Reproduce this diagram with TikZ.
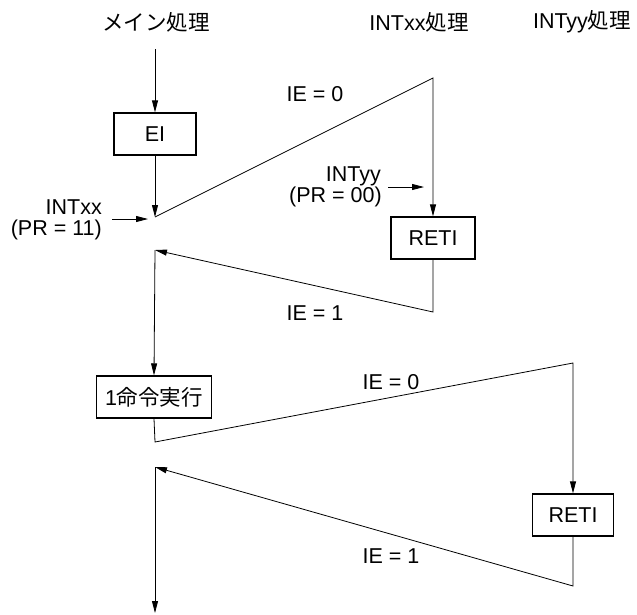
\documentclass[tikz,border=0pt]{standalone}
\usepackage{fontspec}
\setmainfont{Liberation Sans}
\newfontfamily\jp{Noto Sans CJK JP}
\usetikzlibrary{arrows.meta}
\begin{document}
\begin{tikzpicture}[x=1pt,y=-1pt,
  every node/.style={font=\fontsize{21.5}{24}\selectfont, inner sep=0pt},
  box/.style={draw, line width=1.3pt, minimum height=42pt, fill=white},
  ln/.style={line width=0.8pt},
  arr/.style={ln, -{Triangle[length=12pt,width=6pt]}}]
\useasboundingbox (0,0) rectangle (637,614);
% headers
\node (hmain) at (156,22) {\jp メイン処理};
\node (hxx) at (419,22) {INTxx{\jp 処理}};
\node (hyy) at (582,22) {INTyy{\jp 処理}};
% coordinates and boxes
\coordinate (m0) at (155,49);
\node[box, minimum width=82pt] (ei) at (155,134) {EI};
\coordinate (p1) at (155,217);
\coordinate (q1) at (433,78);
\node[box, minimum width=84pt] (reti1) at (433,238) {RETI};
\coordinate (q2) at (433,312);
\coordinate (p2) at (155,250);
\node[box, minimum width=115pt] (cmd) at (154,397) {1{\jp 命令実行}};
\coordinate (p3) at (155,442);
\coordinate (r1) at (573,363);
\node[box, minimum width=81pt] (reti2) at (573,515) {RETI};
\coordinate (r2) at (573,586);
\coordinate (p4) at (155,467);
\coordinate (pend) at (155,613);
% connectors
\draw[arr] (m0) -- (ei.north);
\draw[arr] (ei.south) -- (p1);
\draw[arr] (p1) -- (q1) -- (reti1.north);
\draw[arr] (reti1.south) -- (q2) -- (p2);
\draw[arr] (p2) -- (cmd.north);
\draw[arr] (cmd.south) -- (p3) -- (r1) -- (reti2.north);
\draw[arr] (reti2.south) -- (r2) -- (p4);
\draw[arr] (p4) -- (pend);
% interrupt requests
\coordinate (a1s) at (112,219);
\coordinate (a1e) at (148,219);
\draw[arr] (a1s) -- (a1e);
\node[anchor=east] (lxx) at (102,207) {INTxx};
\node[anchor=east] (lxxpr) at (102,230) {(PR = 11)};
\coordinate (a2s) at (388,187);
\coordinate (a2e) at (424,187);
\draw[arr] (a2s) -- (a2e);
\node[anchor=east] (lyy) at (381,176) {INTyy};
\node[anchor=east] (lyypr) at (382,197) {(PR = 00)};
% IE labels
\node (ie0a) at (315,94) {IE = 0};
\node (ie1a) at (315,313) {IE = 1};
\node (ie0b) at (391,382) {IE = 0};
\node (ie1b) at (391,556) {IE = 1};
\end{tikzpicture}
\end{document}
